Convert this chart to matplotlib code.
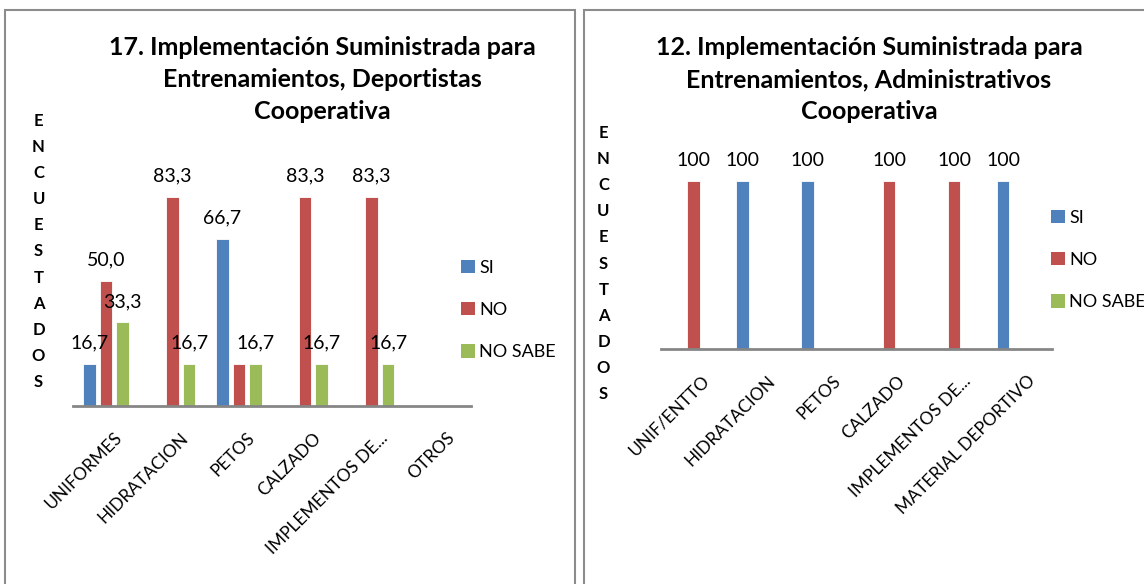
import matplotlib
matplotlib.use('Agg')
import matplotlib.pyplot as plt
import matplotlib.transforms as mtransforms
from matplotlib.patches import Rectangle, Patch
import numpy as np

W, H = 1144, 584

series = ["SI", "NO", "NO SABE"]
colors = ["#4F81BD", "#C0504D", "#9BBB59"]

dep_categories = ["UNIFORMES", "HIDRATACION", "PETOS", "CALZADO", "IMPLEMENTOS DE...", "OTROS"]
dep_si = [16.7, 0, 66.7, 0, 0, 0]
dep_no = [50.0, 83.3, 16.7, 83.3, 83.3, 0]
dep_nosabe = [33.3, 16.7, 16.7, 16.7, 16.7, 0]
dep_title = ["17. Implementación Suministrada para", "Entrenamientos, Deportistas", "Cooperativa"]

adm_categories = ["UNIF/ENTTO", "HIDRATACION", "PETOS", "CALZADO", "IMPLEMENTOS DE...", "MATERIAL DEPORTIVO"]
adm_si = [0, 100, 100, 0, 0, 100]
adm_no = [100, 0, 0, 100, 100, 0]
adm_nosabe = [0, 0, 0, 0, 0, 0]
adm_title = ["12. Implementación Suministrada para", "Entrenamientos, Administrativos", "Cooperativa"]

ylabel = "ENCUESTADOS"

plt.rcParams['font.family'] = ['Lato', 'DejaVu Sans']

fig = plt.figure(figsize=(W / 100, H / 100), dpi=100)


def fx(x):
    return x / W


def fy(y):
    return 1 - y / H


def label_fmt_dec(v):
    return f"{v:.1f}".replace(".", ",")


def label_fmt_int(v):
    return f"{v:.0f}"


def draw_panel(box, ax_px, categories, data, title, title_x, ylab_x, ylab_y0, leg_xy, fmt, hidden=()):
    # panel border
    x0, x1 = box
    fig.add_artist(Rectangle((fx(x0), fy(H + 20)), fx(x1 - x0), (H + 10) / H,
                             transform=fig.transFigure, fill=False,
                             edgecolor="#8c8c8c", linewidth=1.5))
    left, right, top, bottom = ax_px
    ax = fig.add_axes([fx(left), fy(bottom), fx(right - left), (bottom - top) / H])
    x = np.arange(len(categories))
    width = 0.19
    offsets = [-0.25, 0, 0.25]
    for i, (vals, col) in enumerate(zip(data, colors)):
        bars = ax.bar(x + offsets[i], vals, width, color=col, edgecolor="white",
                      linewidth=0.6, label=series[i])
        labels = []
        for j, v in enumerate(vals):
            if v == 0 or (i, j) in hidden:
                labels.append("")
            else:
                labels.append(fmt(v))
        ax.bar_label(bars, labels=labels, padding=9, fontsize=14, clip_on=False)
    ax.set_xlim(-0.5, len(categories) - 0.5)
    ax.set_ylim(0, 100)
    for s in ["top", "right", "left"]:
        ax.spines[s].set_visible(False)
    ax.spines["bottom"].set_color("#868686")
    ax.spines["bottom"].set_linewidth(2)
    ax.set_yticks([])
    ax.set_xticks(x)
    ax.set_xticklabels(categories, rotation=45, ha="right", va="top",
                       rotation_mode="anchor", fontsize=12.5)
    ax.tick_params(axis="x", length=0, pad=17)
    # nudge the rotated labels a little to the right, like the original
    shift = mtransforms.ScaledTranslation(8 / 100, 0, fig.dpi_scale_trans)
    for lab in ax.get_xticklabels():
        lab.set_transform(lab.get_transform() + shift)
    ax.patch.set_visible(False)

    baselines = [55, 87, 119]
    for line, yb in zip(title, baselines):
        fig.text(fx(title_x), fy(yb), line, ha="center", va="baseline",
                 fontsize=18, fontweight="bold")

    for k, ch in enumerate(ylabel):
        fig.text(fx(ylab_x), fy(ylab_y0 + 26.1 * k), ch, ha="center", va="center",
                 fontsize=12, fontweight="bold")

    handles = [Patch(facecolor=c, edgecolor="none", label=s) for c, s in zip(colors, series)]
    fig.legend(handles=handles, loc="upper left",
               bbox_to_anchor=(fx(leg_xy[0]), fy(leg_xy[1])),
               frameon=False, fontsize=13, handlelength=0.75, handleheight=0.75,
               handletextpad=0.25, labelspacing=1.45, borderpad=0, borderaxespad=0)
    return ax


draw_panel((5, 575), (73, 471, 155, 406), dep_categories,
           [dep_si, dep_no, dep_nosabe], dep_title, 322, 38.5, 121, (461, 260),
           label_fmt_dec, hidden={(1, 2)})
draw_panel((584, 1150), (661, 1052, 181, 349), adm_categories,
           [adm_si, adm_no, adm_nosabe], adm_title, 869, 603.5, 133, (1051, 210),
           label_fmt_int)

fig.savefig("out.png", dpi=100)
